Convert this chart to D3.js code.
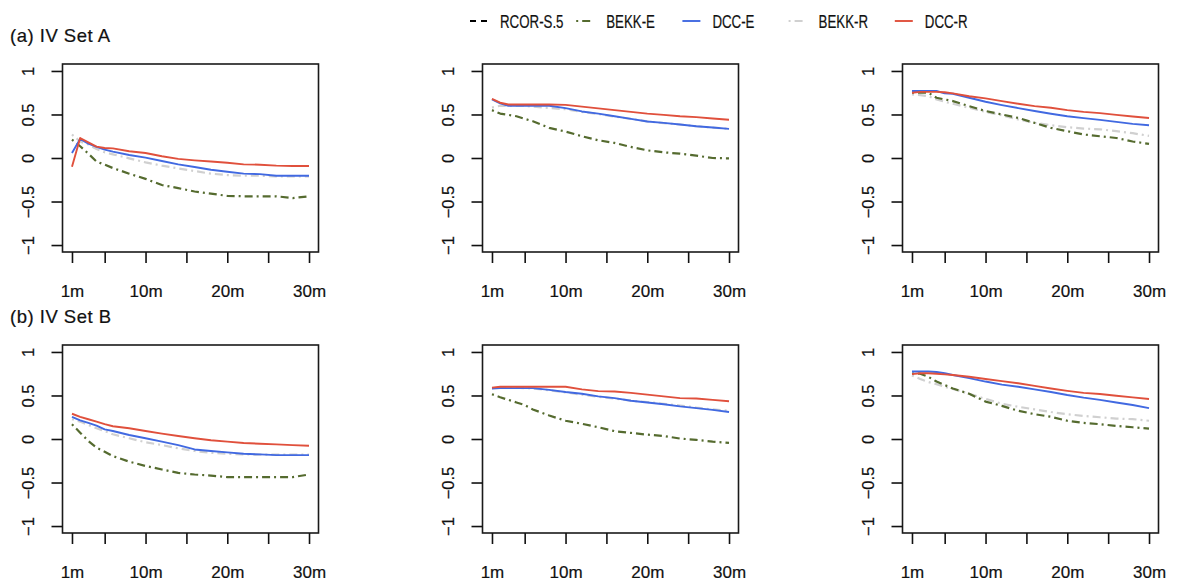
<!DOCTYPE html>
<html>
<head>
<meta charset="utf-8">
<script src="https://cdn.jsdelivr.net/npm/d3@7"></script>
<style>
  body { margin: 0; background: #fff; }
  svg { display: block; font-family: "Liberation Sans", Arial, sans-serif; }
  text { stroke: #111; stroke-width: 0.2px; }
</style>
</head>
<body>
<div id="chart"></div>
<script>

// horizons (months) at which values were read
var months = [1, 2, 3, 4, 5, 6, 8, 10, 12, 14, 16, 18, 20, 22, 24, 26, 28, 30];

var xTicks = [1, 5, 10, 15, 20, 25, 30];
var xLabelled = [1, 10, 20, 30];
var yTicks = [-1, -0.5, 0, 0.5, 1];

var seriesNames = ["RCOR-S.5", "BEKK-E", "DCC-E", "BEKK-R", "DCC-R"];
var rowTitles = ["(a) IV Set A", "(b) IV Set B"];

// IV Set A, panel 1
var a1_bekkE = [0.21, 0.135, 0.05, -0.04, -0.077, -0.115, -0.18, -0.24, -0.31, -0.346, -0.385, -0.41, -0.435, -0.44, -0.44, -0.44, -0.46, -0.44];
var a1_dccE  = [0.058, 0.22, 0.165, 0.127, 0.096, 0.073, 0.035, 0.004, -0.035, -0.073, -0.104, -0.135, -0.158, -0.18, -0.185, -0.204, -0.204, -0.204];
var a1_bekkR = [0.27, 0.19, 0.154, 0.104, 0.065, 0.042, -0.004, -0.05, -0.088, -0.12, -0.15, -0.18, -0.196, -0.204, -0.204, -0.21, -0.21, -0.21];
var a1_dccR  = [-0.1, 0.23, 0.18, 0.13, 0.115, 0.11, 0.077, 0.058, 0.02, -0.01, -0.027, -0.04, -0.055, -0.073, -0.077, -0.088, -0.092, -0.092];

// IV Set A, panel 2
var a2_bekkE = [0.55, 0.51, 0.496, 0.48, 0.45, 0.423, 0.346, 0.304, 0.25, 0.204, 0.173, 0.127, 0.088, 0.065, 0.05, 0.027, 0, -0.004];
var a2_dccE  = [0.673, 0.627, 0.6, 0.6, 0.6, 0.6, 0.6, 0.573, 0.535, 0.51, 0.48, 0.45, 0.42, 0.404, 0.385, 0.365, 0.35, 0.335];
var a2_bekkR = [0.58, 0.6, 0.6, 0.6, 0.6, 0.59, 0.575, 0.56, 0.53, 0.505, 0.475, 0.45, 0.42, 0.4, 0.385, 0.365, 0.35, 0.335];
var a2_dccR  = [0.68, 0.635, 0.615, 0.615, 0.615, 0.615, 0.615, 0.61, 0.59, 0.57, 0.55, 0.53, 0.51, 0.496, 0.48, 0.47, 0.454, 0.44];

// IV Set A, panel 3
var a3_bekkE = [0.75, 0.75, 0.75, 0.692, 0.673, 0.654, 0.596, 0.54, 0.5, 0.46, 0.404, 0.346, 0.308, 0.27, 0.25, 0.23, 0.19, 0.162];
var a3_dccE  = [0.77, 0.77, 0.77, 0.77, 0.742, 0.738, 0.692, 0.646, 0.608, 0.573, 0.54, 0.508, 0.48, 0.458, 0.438, 0.415, 0.392, 0.377];
var a3_bekkR = [0.73, 0.723, 0.71, 0.673, 0.646, 0.623, 0.577, 0.53, 0.492, 0.442, 0.404, 0.377, 0.354, 0.338, 0.33, 0.308, 0.285, 0.254];
var a3_dccR  = [0.75, 0.76, 0.76, 0.76, 0.755, 0.742, 0.71, 0.685, 0.654, 0.623, 0.596, 0.577, 0.55, 0.53, 0.515, 0.496, 0.477, 0.46];

// IV Set B, panel 1
var b1_bekkE = [0.17, 0.073, -0.023, -0.1, -0.146, -0.196, -0.26, -0.31, -0.35, -0.39, -0.408, -0.42, -0.438, -0.438, -0.438, -0.438, -0.438, -0.408];
var b1_dccE  = [0.254, 0.215, 0.185, 0.154, 0.11, 0.092, 0.046, 0.008, -0.03, -0.07, -0.12, -0.138, -0.154, -0.17, -0.177, -0.185, -0.185, -0.185];
var b1_bekkR = [0.227, 0.2, 0.16, 0.123, 0.092, 0.054, 0.008, -0.038, -0.07, -0.108, -0.138, -0.158, -0.17, -0.177, -0.18, -0.18, -0.18, -0.18];
var b1_dccR  = [0.29, 0.254, 0.227, 0.2, 0.17, 0.146, 0.123, 0.092, 0.062, 0.035, 0.008, -0.015, -0.03, -0.046, -0.054, -0.062, -0.07, -0.077];

// IV Set B, panel 2
var b2_bekkE = [0.515, 0.48, 0.45, 0.42, 0.39, 0.34, 0.27, 0.21, 0.175, 0.135, 0.09, 0.07, 0.05, 0.035, 0.005, -0.01, -0.03, -0.045];
var b2_dccE  = [0.58, 0.585, 0.585, 0.585, 0.585, 0.585, 0.565, 0.54, 0.52, 0.49, 0.47, 0.44, 0.42, 0.4, 0.375, 0.355, 0.335, 0.31];
var b2_bekkR = [0.585, 0.59, 0.59, 0.59, 0.585, 0.58, 0.56, 0.535, 0.51, 0.485, 0.465, 0.44, 0.425, 0.405, 0.385, 0.36, 0.34, 0.325];
var b2_dccR  = [0.59, 0.6, 0.6, 0.6, 0.6, 0.6, 0.6, 0.6, 0.57, 0.55, 0.545, 0.53, 0.51, 0.49, 0.47, 0.465, 0.45, 0.434];

// IV Set B, panel 3
var b3_bekkE = [0.75, 0.75, 0.715, 0.66, 0.62, 0.58, 0.52, 0.43, 0.38, 0.325, 0.285, 0.255, 0.21, 0.185, 0.17, 0.15, 0.135, 0.12];
var b3_dccE  = [0.775, 0.775, 0.775, 0.77, 0.755, 0.735, 0.7, 0.66, 0.625, 0.6, 0.57, 0.54, 0.505, 0.475, 0.45, 0.42, 0.39, 0.354];
var b3_bekkR = [0.73, 0.69, 0.655, 0.63, 0.6, 0.575, 0.52, 0.46, 0.405, 0.37, 0.34, 0.31, 0.285, 0.265, 0.25, 0.235, 0.228, 0.21];
var b3_dccR  = [0.745, 0.755, 0.755, 0.75, 0.742, 0.735, 0.715, 0.69, 0.665, 0.64, 0.61, 0.58, 0.553, 0.53, 0.517, 0.497, 0.478, 0.46];

var panels = [
	{row: 0, col: 0, bekkE: a1_bekkE, dccE: a1_dccE, bekkR: a1_bekkR, dccR: a1_dccR},
	{row: 0, col: 1, bekkE: a2_bekkE, dccE: a2_dccE, bekkR: a2_bekkR, dccR: a2_dccR},
	{row: 0, col: 2, bekkE: a3_bekkE, dccE: a3_dccE, bekkR: a3_bekkR, dccR: a3_dccR},
	{row: 1, col: 0, bekkE: b1_bekkE, dccE: b1_dccE, bekkR: b1_bekkR, dccR: b1_dccR},
	{row: 1, col: 1, bekkE: b2_bekkE, dccE: b2_dccE, bekkR: b2_bekkR, dccR: b2_dccR},
	{row: 1, col: 2, bekkE: b3_bekkE, dccE: b3_dccE, bekkR: b3_bekkR, dccR: b3_dccR}
];

var colors = d3.scaleOrdinal()
	.domain(seriesNames)
	.range(["#000000", "#556b2f", "#4169e1", "#d0d0d0", "#e0503c"]);

var dashes = d3.scaleOrdinal()
	.domain(seriesNames)
	.range(["6,5", "2,4,8,4", null, "2,4,8,4", null]);

var widths = d3.scaleOrdinal()
	.domain(seriesNames)
	.range([1.8, 2.2, 1.9, 2.2, 1.9]);

var width = 1196, height = 581;
var boxW = 256, boxH = 188;
var left0 = 62.5, colStep = 420;
var top0 = 64, rowStep = 281;

var svg = d3.select("#chart").append("svg")
	.attr("width", width)
	.attr("height", height);

// legend across the top
var legend = svg.append("g").attr("class", "legend");

seriesNames.forEach(function(name, i) {
	var x0 = 470 + i * 106.2;
	legend.append("line")
		.attr("x1", x0).attr("x2", x0 + 18)
		.attr("y1", 21).attr("y2", 21)
		.attr("stroke", colors(name))
		.attr("stroke-width", widths(name))
		.attr("stroke-dasharray", dashes(name));
	legend.append("text")
		.attr("transform", "translate(" + (x0 + 30) + ",27.5) scale(0.76,1)")
		.style("font-size", "17.5px")
		.attr("fill", "#111")
		.text(name);
});

rowTitles.forEach(function(t, r) {
	svg.append("text")
		.attr("x", 10)
		.attr("y", 42 + r * rowStep)
		.style("font-size", "18.5px")
		.style("letter-spacing", "0.5px")
		.attr("fill", "#111")
		.text(t);
});

var line = d3.line();

panels.forEach(function(p) {
	var left = left0 + p.col * colStep;
	var top = top0 + p.row * rowStep;

	var x = d3.scaleLinear()
		.domain([1 - 29 * 0.04, 30 + 29 * 0.04])
		.range([left, left + boxW]);

	var y = d3.scaleLinear()
		.domain([-1.08, 1.08])
		.range([top + boxH, top]);

	var g = svg.append("g").attr("class", "panel");

	// series: gray first so the solid lines sit on top
	var order = [["BEKK-R", p.bekkR], ["BEKK-E", p.bekkE], ["DCC-E", p.dccE], ["DCC-R", p.dccR]];

	order.forEach(function(s) {
		var pts = months.map(function(m, i) { return [x(m), y(s[1][i])]; });
		g.append("path")
			.attr("d", line(pts))
			.attr("fill", "none")
			.attr("stroke", colors(s[0]))
			.attr("stroke-width", widths(s[0]))
			.attr("stroke-dasharray", dashes(s[0]))
			.attr("stroke-linejoin", "round");
	});

	g.append("rect")
		.attr("x", left).attr("y", top)
		.attr("width", boxW).attr("height", boxH)
		.attr("fill", "none")
		.attr("stroke", "#1a1a1a")
		.attr("stroke-width", 1.6);

	var yAxis = g.append("g")
		.attr("transform", "translate(" + left + ",0)")
		.call(d3.axisLeft(y).tickValues(yTicks).tickSize(11).tickFormat(function(d) { return d3.format("")(d); }));
	yAxis.select(".domain").remove();
	yAxis.selectAll("line").attr("stroke", "#111").attr("stroke-width", 1.6);
	yAxis.selectAll("text")
		.attr("x", null).attr("dy", null)
		.attr("transform", "translate(-29,0) rotate(-90)")
		.attr("text-anchor", "middle")
		.attr("fill", "#111")
		.style("font-size", "16.5px")
		.style("font-family", "Liberation Sans, Arial, sans-serif");

	var xAxis = g.append("g")
		.attr("transform", "translate(0," + (top + boxH) + ")")
		.call(d3.axisBottom(x).tickValues(xTicks).tickSize(11).tickFormat(function(d) {
			return xLabelled.indexOf(d) >= 0 ? d + "m" : "";
		}));
	xAxis.select(".domain").remove();
	xAxis.selectAll("line").attr("stroke", "#111").attr("stroke-width", 1.6);
	xAxis.selectAll("text")
		.attr("y", 45).attr("dy", null)
		.attr("fill", "#111")
		.style("font-size", "17px")
		.style("font-family", "Liberation Sans, Arial, sans-serif");
});

</script>
</body>
</html>
